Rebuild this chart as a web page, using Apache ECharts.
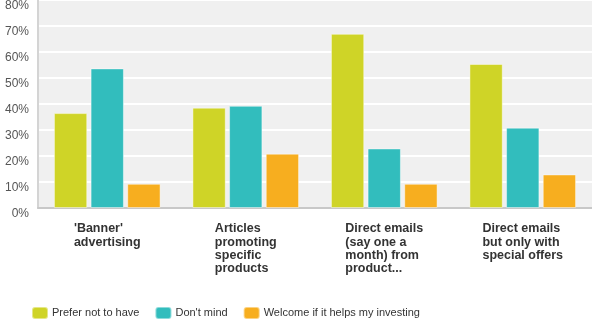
<!DOCTYPE html>
<html><head><meta charset="utf-8">
<script src="https://cdn.jsdelivr.net/npm/echarts@6/dist/echarts.min.js"></script>
<style>html,body{margin:0;padding:0;background:#fff}#c{width:592px;height:323px}</style>
</head><body><div id="c"></div>
<script>
var categories = ["'Banner'\nadvertising", "Articles\npromoting\nspecific\nproducts", "Direct emails\n(say one a\nmonth) from\nproduct...", "Direct emails\nbut only with\nspecial offers"];
var seriesNames = ["Prefer not to have", "Don't mind", "Welcome if it helps my investing"];
var preferNot = [36.5, 38.6, 67.0, 55.4];
var dontMind = [53.7, 39.3, 22.9, 30.9];
var welcome = [9.3, 20.9, 9.3, 12.9];
var colors = ['#cfd427', '#32bdbd', '#f7ae1f'];

var chart = echarts.init(document.getElementById('c'), null, {renderer: 'canvas'});
var FONT = '"Liberation Sans", Arial, sans-serif';
function mk(name, data, color) {
  return {
    name: name, type: 'bar', data: data, barGap: '10%', barCategoryGap: '23%',
    itemStyle: {color: color, borderColor: 'rgba(255,255,255,0.45)', borderWidth: 1},
    emphasis: {disabled: true}
  };
}
chart.setOption({
  animation: false,
  textStyle: {fontFamily: FONT},
  grid: {left: 38, right: 0, top: 0, bottom: 115, show: true, backgroundColor: '#f0f0f0', borderWidth: 0, outerBoundsMode: 'none', containLabel: false},
  legend: {
    left: 31, top: 306, padding: 0, itemWidth: 16, itemHeight: 12, itemGap: 15,
    icon: 'roundRect',
    textStyle: {fontFamily: FONT, fontSize: 11, color: '#333', padding: [0, 0, 0, -1]},
    data: seriesNames
  },
  xAxis: {
    type: 'category', data: categories,
    axisLine: {show: true, lineStyle: {color: '#c8c8c8', width: 2}},
    axisTick: {show: false},
    axisLabel: {
      margin: 14,
      interval: 0,
      formatter: function (v) { return v.split('\n').map(function (l) { return '{a|' + l + '}'; }).join('\n'); },
      rich: {a: {align: 'left', fontFamily: FONT, fontSize: 12.5, fontWeight: 'bold', color: '#333', lineHeight: 13.4}}
    }
  },
  yAxis: {
    type: 'value', min: 0, max: 80, interval: 10,
    axisLine: {show: true, lineStyle: {color: '#d4d4d4', width: 2}},
    axisTick: {show: false},
    splitLine: {lineStyle: {color: '#ffffff', width: 2}},
    axisLabel: {formatter: '{value}%', fontFamily: FONT, fontSize: 12, color: '#555', margin: 9, verticalAlign: 'top', lineHeight: 12}
  },
  series: [mk(seriesNames[0], preferNot, colors[0]), mk(seriesNames[1], dontMind, colors[1]), mk(seriesNames[2], welcome, colors[2])]
});
</script></body></html>
